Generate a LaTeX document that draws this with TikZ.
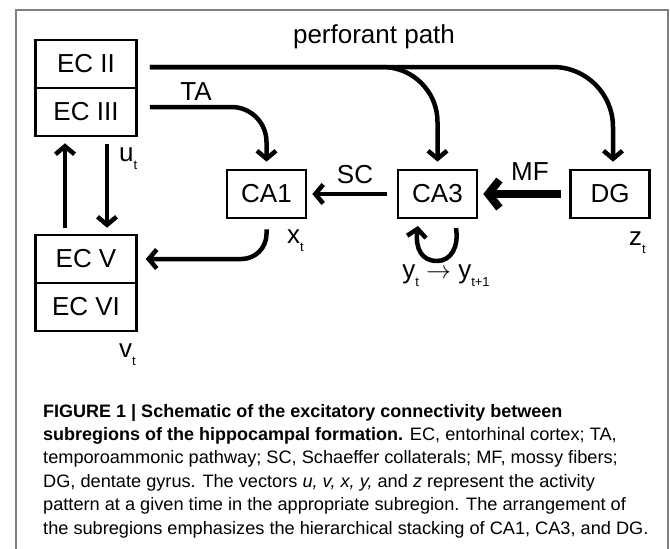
\documentclass[tikz,border=0pt]{standalone}
\usepackage{fontspec}
\setmainfont{Liberation Sans}
\newfontfamily\capfont[FakeStretch=1.01,BoldFeatures={FakeStretch=1}]{Liberation Sans}
\usetikzlibrary{arrows.meta}

% subscript t as in the figure
\newcommand{\sbt}[1]{\raisebox{-8pt}{\fontsize{13}{13}\selectfont #1}}

\tikzset{
  area/.style={draw, line width=2.6pt, minimum width=101pt, minimum height=48pt,
    inner sep=0pt, font=\fontsize{26}{26}\selectfont},
  lab/.style={inner sep=0pt, font=\fontsize{26}{26}\selectfont},
  captext/.style={inner sep=0pt, font=\capfont\fontsize{18}{18}\selectfont},
  conn/.style={line width=4.5pt, -{Straight Barb[length=8pt,width=19pt]}},
  mfconn/.style={line width=8pt, -{Straight Barb[length=11pt,width=28pt]}},
  frame/.style={draw=gray, line width=1.5pt}
}

\begin{document}
\begin{tikzpicture}[x=1pt,y=-1pt]
\useasboundingbox (0,0) rectangle (670,549);
\draw[frame] (16,549) -- (16,10) -- (668,10) -- (668,549);

% subregions
\node[area] (ecii) at (86,64) {EC II};
\node[area] (eciii) at (86,112) {EC III};
\node[area] (ecv) at (86,259) {EC V};
\node[area] (ecvi) at (86,307) {EC VI};
\node[area, minimum width=79pt] (ca1) at (266.5,194) {CA1};
\node[area, minimum width=79pt] (ca3) at (437.5,194) {CA3};
\node[area, minimum width=79pt] (dg) at (610,194) {DG};

% connections
\coordinate (ppstart) at ([xshift=12pt,yshift=-3pt]ecii.east);
\draw[conn, rounded corners=60pt] (ppstart) -| ([xshift=3pt,yshift=7pt]dg.north);
\draw[conn, rounded corners=55pt] (ppstart) -| ([yshift=7pt]ca3.north);
\draw[conn, rounded corners=35pt] ([xshift=12pt,yshift=5pt]eciii.east) -| ([yshift=7pt]ca1.north);
\draw[conn, rounded corners=25pt] ([yshift=-10pt]ca1.south) |- ([xshift=8pt]ecv.east);
\draw[conn] ([xshift=-10pt]ca3.west) -- ([xshift=5pt]ca1.east);
\draw[mfconn] ([xshift=-8pt]dg.west) -- ([xshift=5pt]ca3.east);
\draw[conn] ([xshift=-21pt,yshift=6pt]ecv.north) -- ([xshift=-21pt,yshift=-6pt]eciii.south);
\draw[conn] ([xshift=21pt,yshift=-7pt]eciii.south) -- ([xshift=21pt,yshift=6pt]ecv.north);
% recurrent loop under CA3
\coordinate (loopa) at (456,228);
\coordinate (loopm) at (437,261);
\coordinate (loopb) at (418,226);
\draw[conn] (loopa) .. controls (459,247) and (451,261) .. (loopm)
  .. controls (422,261) and (415,249) .. (loopb);

% labels
\node[lab, anchor=base] (pplab) at (374,43) {perforant path};
\node[lab, anchor=base] (talab) at (196,100) {TA};
\node[lab, anchor=base] (sclab) at (355,183) {SC};
\node[lab, anchor=base] (mflab) at (530,180) {MF};
\node[lab, anchor=base west] (ulab) at (119,161) {u\sbt{t}};
\node[lab, anchor=base west] (xlab) at (287,243) {x\sbt{t}};
\node[lab, anchor=base west] (zlab) at (629,245) {z\sbt{t}};
\node[lab, anchor=base west] (vlab) at (119,357) {v\sbt{t}};
\node[lab, anchor=base] (ylab) at (446,278) {y\sbt{t} $\rightarrow$ y\sbt{t+1}};

% caption
\node[captext, anchor=base west] (cap1) at (43,417) {\bfseries FIGURE 1 | Schematic of the excitatory connectivity between};
\node[captext, anchor=base west] (cap2) at (43,440.4) {\textbf{subregions of the hippocampal formation.} EC, entorhinal cortex; TA,};
\node[captext, anchor=base west] (cap3) at (43,463.8) {temporoammonic pathway; SC, Schaeffer collaterals; MF, mossy fibers;};
\node[captext, anchor=base west] (cap4) at (43,487.2) {DG, dentate gyrus. The vectors \textit{u, v, x, y,} and \textit{z} represent the activity};
\node[captext, anchor=base west] (cap5) at (43,510.6) {pattern at a given time in the appropriate subregion. The arrangement of};
\node[captext, anchor=base west] (cap6) at (43,534) {the subregions emphasizes the hierarchical stacking of CA1, CA3, and DG.};
\end{tikzpicture}
\end{document}
